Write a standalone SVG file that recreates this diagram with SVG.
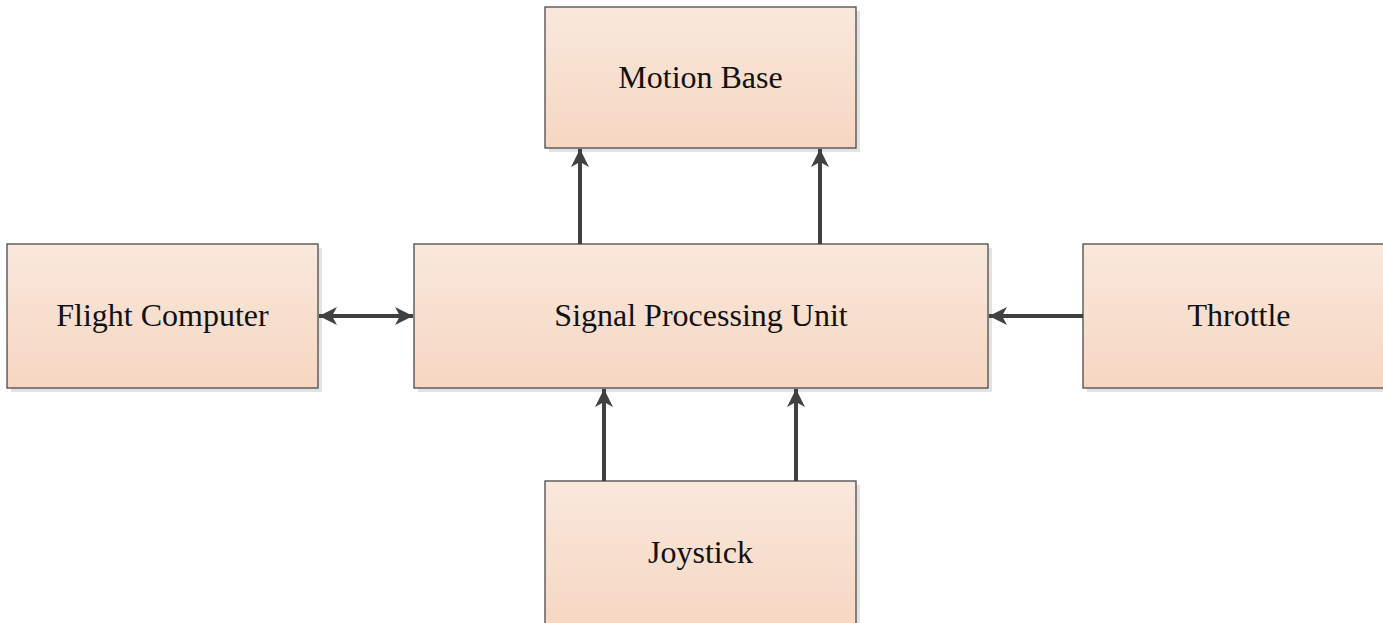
<svg xmlns="http://www.w3.org/2000/svg" width="1383" height="623" viewBox="0 0 1383 623">
  <defs>
    <linearGradient id="fill" x1="0" y1="0" x2="0" y2="1">
      <stop offset="0" stop-color="#f9e8dc"/>
      <stop offset="1" stop-color="#f6d6c1"/>
    </linearGradient>
    <marker id="head" viewBox="0 0 18 18" refX="18" refY="9" markerWidth="18" markerHeight="18" markerUnits="userSpaceOnUse" orient="auto-start-reverse">
      <path d="M0,0 L18,9 L0,18 L5,9 Z" fill="#404040"/>
    </marker>
  </defs>
  <style>
    .shadow { fill: #e3e3e3; }
    .box { fill: url(#fill); stroke: #4a4a4a; stroke-width: 1.3; }
    .label { font-family: "Liberation Serif", "Times New Roman", serif; font-size: 32px; fill: #111; text-anchor: middle; }
    .link { stroke: #404040; stroke-width: 4; fill: none; }
  </style>
  <rect width="1383" height="623" fill="#ffffff"/>

  <g id="motion-base">
    <rect class="shadow" x="549" y="11" width="311" height="141"/>
    <rect class="box" x="545" y="7" width="311" height="141"/>
    <text class="label" x="700.5" y="88">Motion Base</text>
  </g>

  <g id="flight-computer">
    <rect class="shadow" x="11" y="248" width="311" height="144"/>
    <rect class="box" x="7" y="244" width="311" height="144"/>
    <text class="label" x="162.5" y="326">Flight Computer</text>
  </g>

  <g id="signal-processing-unit">
    <rect class="shadow" x="418" y="248" width="574" height="144"/>
    <rect class="box" x="414" y="244" width="574" height="144"/>
    <text class="label" x="701" y="326">Signal Processing Unit</text>
  </g>

  <g id="throttle">
    <rect class="shadow" x="1087" y="248" width="311" height="144"/>
    <rect class="box" x="1083" y="244" width="311" height="144"/>
    <text class="label" x="1239" y="326">Throttle</text>
  </g>

  <g id="joystick">
    <rect class="shadow" x="549" y="485" width="311" height="150"/>
    <rect class="box" x="545" y="481" width="311" height="150"/>
    <text class="label" x="700.5" y="563">Joystick</text>
  </g>

  <g id="connectors">
    <line class="link" x1="580" y1="244" x2="580" y2="149" marker-end="url(#head)"/>
    <line class="link" x1="820" y1="244" x2="820" y2="149" marker-end="url(#head)"/>
    <line class="link" x1="604" y1="481" x2="604" y2="389" marker-end="url(#head)"/>
    <line class="link" x1="796" y1="481" x2="796" y2="389" marker-end="url(#head)"/>
    <line class="link" x1="319" y1="316" x2="413" y2="316" marker-start="url(#head)" marker-end="url(#head)"/>
    <line class="link" x1="1083" y1="316" x2="989" y2="316" marker-end="url(#head)"/>
  </g>
</svg>
